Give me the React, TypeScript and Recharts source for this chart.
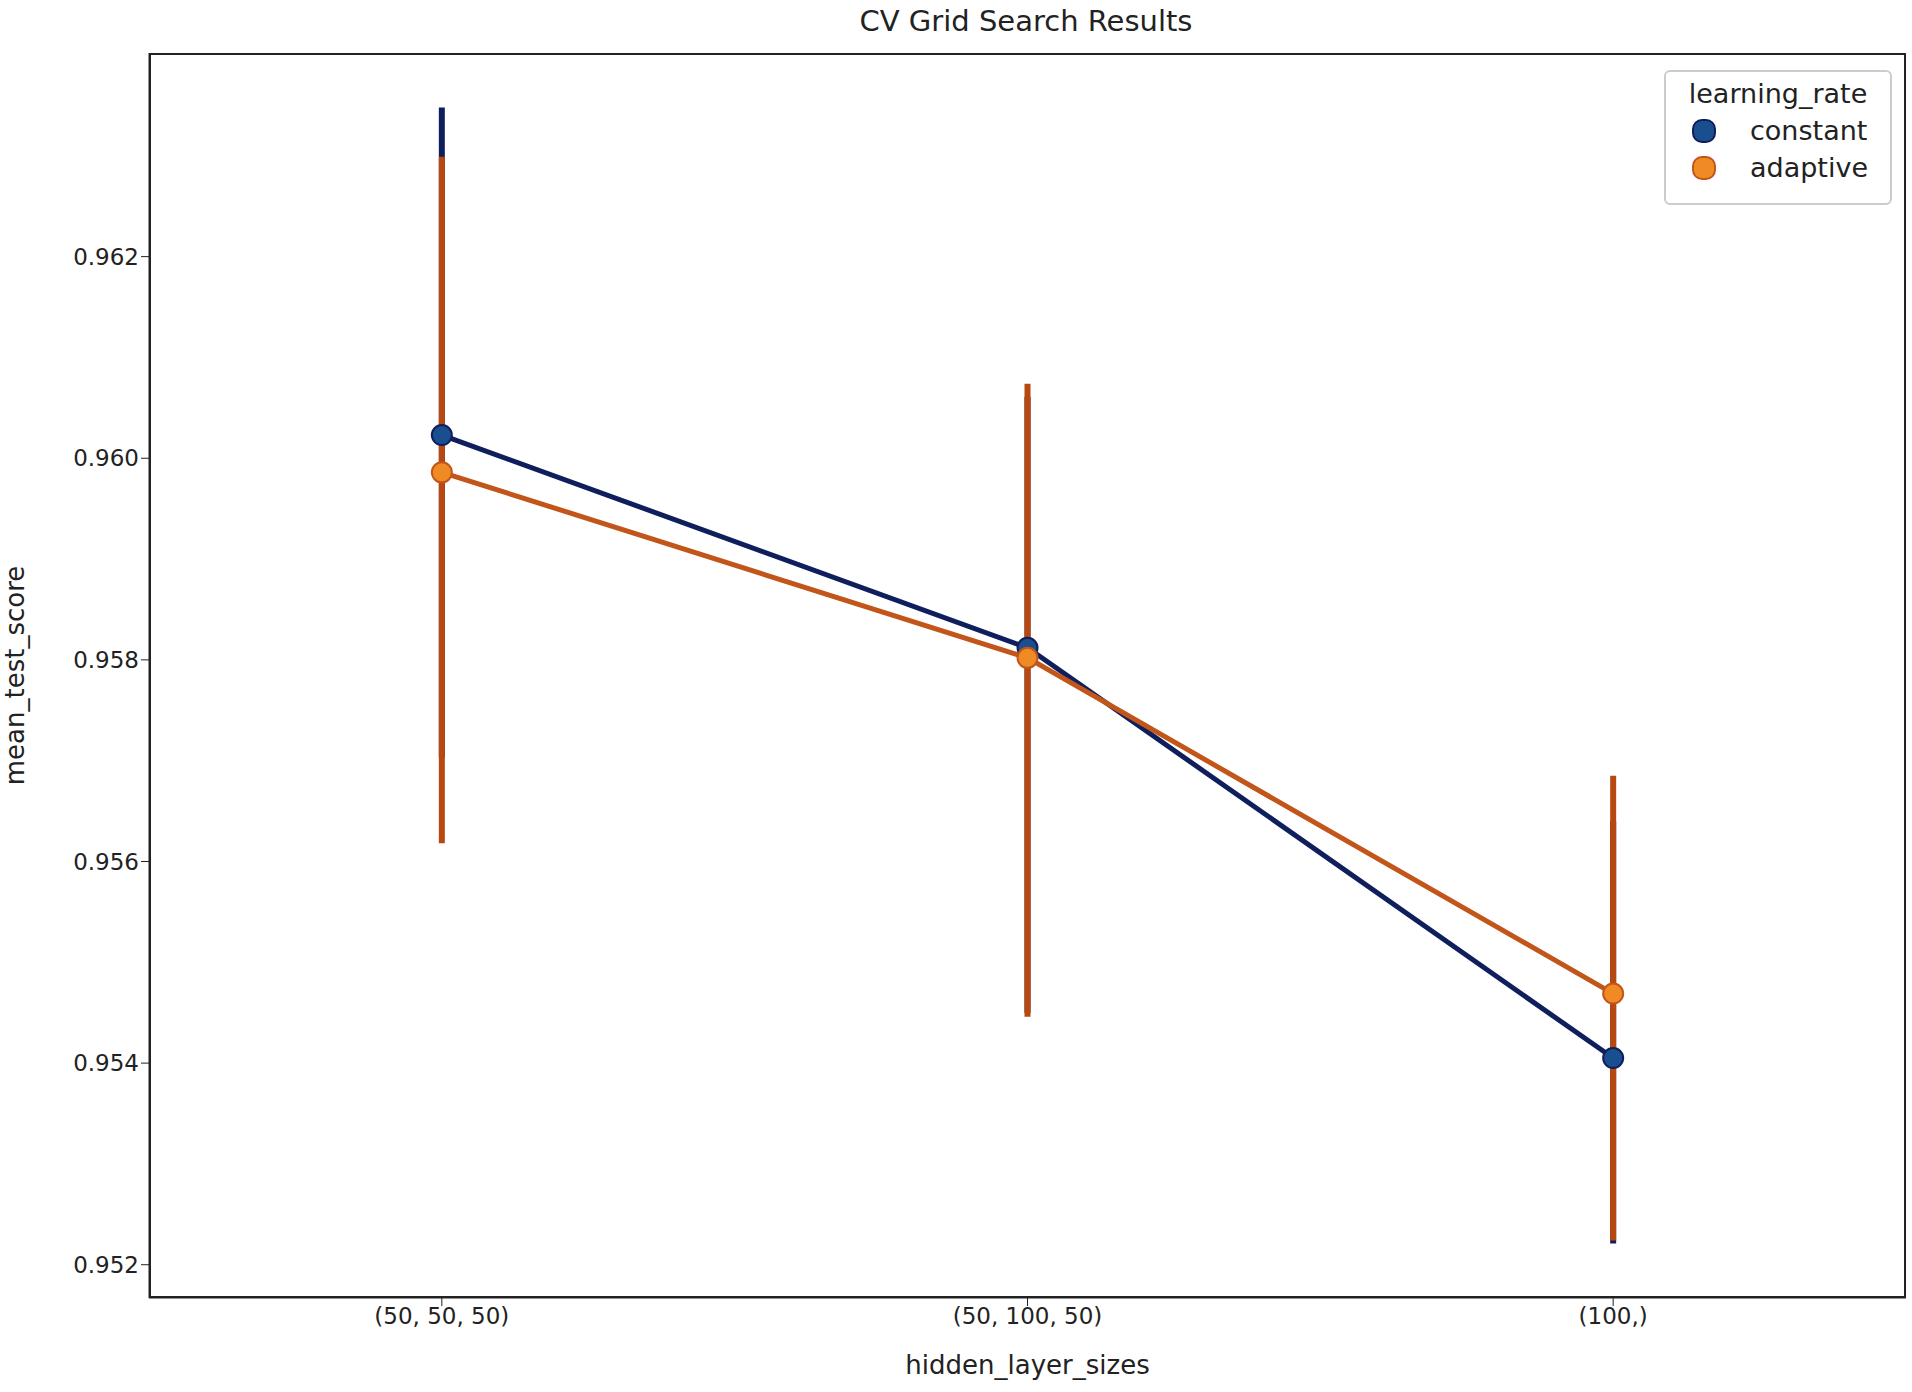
import { ComposedChart, Line, XAxis, YAxis, ErrorBar, Label } from "recharts";

const categories = ["(50, 50, 50)", "(50, 100, 50)", "(100,)"];
const constantMean = [0.96023, 0.95812, 0.95405];
const constantLow = [0.95703, 0.95450, 0.95221];
const constantHigh = [0.96348, 0.96061, 0.95640];
const adaptiveMean = [0.95986, 0.95802, 0.95469];
const adaptiveLow = [0.95618, 0.95446, 0.95224];
const adaptiveHigh = [0.96299, 0.96074, 0.95685];
const yTicks = [0.952, 0.954, 0.956, 0.958, 0.96, 0.962];

const data = categories.map((c, i) => ({
  x: i,
  constant: constantMean[i],
  cErr: [constantMean[i] - constantLow[i], constantHigh[i] - constantMean[i]],
  adaptive: adaptiveMean[i],
  aErr: [adaptiveMean[i] - adaptiveLow[i], adaptiveHigh[i] - adaptiveMean[i]],
}));

const font = "'DejaVu Sans', sans-serif";
const tick = { fill: "#222", fontSize: 23, fontFamily: font };

export default function App() {
  return (
    <div style={{ position: "absolute", left: 0, top: 0, width: 1912, height: 1392, background: "#fff", fontFamily: font }}>
      <div style={{ position: "absolute", top: 4, width: 1912, left: 70, textAlign: "center", fontSize: 29, color: "#222" }}>
        CV Grid Search Results
      </div>
      <ComposedChart width={1912} height={1392} data={data} margin={{ top: 53, right: 6, bottom: 0, left: 49 }}>
        <XAxis
          type="number"
          dataKey="x"
          domain={[-0.5, 2.5]}
          ticks={[0, 1, 2]}
          tickFormatter={(v) => categories[v]}
          tick={tick}
          height={94}
          stroke="#222"
          tickSize={8}
        >
          <Label value="hidden_layer_sizes" position="insideBottom" offset={18} style={{ fill: "#222", fontSize: 26, fontFamily: font }} />
        </XAxis>
        <YAxis
          type="number"
          domain={[0.95167, 0.96402]}
          ticks={yTicks}
          tickFormatter={(v) => v.toFixed(3)}
          tick={tick}
          width={100}
          stroke="#222"
          tickSize={8}
          allowDataOverflow
        >
          <Label value="mean_test_score" angle={-90} position="insideLeft" offset={-34} style={{ fill: "#222", fontSize: 26, fontFamily: font, textAnchor: "middle" }} />
        </YAxis>
        <Line
          dataKey="constant"
          stroke="#0f1f5c"
          strokeWidth={5}
          dot={{ r: 10, fill: "#1a4f8f", stroke: "#0f1f5c", strokeWidth: 2 }}
          isAnimationActive={false}
        >
          <ErrorBar dataKey="cErr" direction="y" width={0} stroke="#0f1f5c" strokeWidth={6} />
        </Line>
        <Line
          dataKey="adaptive"
          stroke="#c2561a"
          strokeWidth={5}
          dot={{ r: 10, fill: "#f08a24", stroke: "#c2561a", strokeWidth: 2 }}
          isAnimationActive={false}
        >
          <ErrorBar dataKey="aErr" direction="y" width={0} stroke="#b8480f" strokeWidth={6} />
        </Line>
      </ComposedChart>
      <div style={{ position: "absolute", left: 149, top: 53, width: 1757, height: 1245, border: "2px solid #222", boxSizing: "border-box", pointerEvents: "none" }} />
      <div style={{ position: "absolute", left: 1664, top: 70, width: 228, height: 135, border: "2px solid #ccc", borderRadius: 6, boxSizing: "border-box", background: "#fff", fontSize: 27, color: "#222" }}>
        <div style={{ textAlign: "center", marginTop: 6 }}>learning_rate</div>
        <div style={{ display: "flex", alignItems: "center", marginTop: 6 }}>
          <span style={{ width: 20, height: 20, borderRadius: 10, background: "#1a4f8f", border: "2px solid #0f1f5c", marginLeft: 26, marginRight: 34 }} />constant
        </div>
        <div style={{ display: "flex", alignItems: "center", marginTop: 6 }}>
          <span style={{ width: 20, height: 20, borderRadius: 10, background: "#f08a24", border: "2px solid #c2561a", marginLeft: 26, marginRight: 34 }} />adaptive
        </div>
      </div>
    </div>
  );
}
